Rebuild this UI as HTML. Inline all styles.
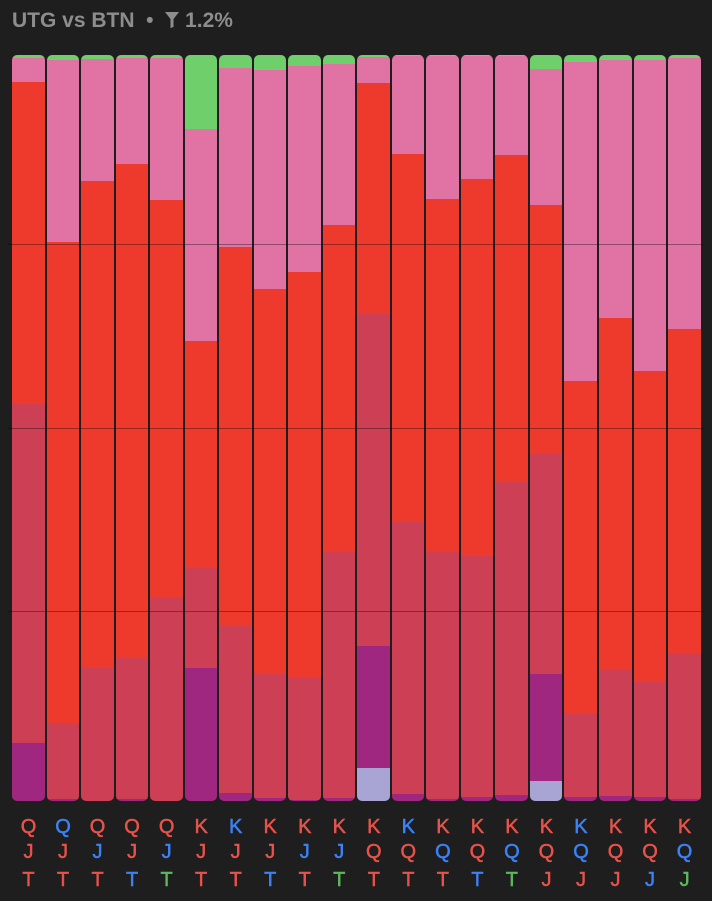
<!DOCTYPE html>
<html><head><meta charset="utf-8"><style>
body{margin:0;width:712px;height:901px;background:#1e1e1e;font-family:"Liberation Sans",sans-serif;overflow:hidden;position:relative}
#title{position:absolute;left:12px;top:9px;font-size:21px;font-weight:bold;color:#8d8d8d}
.col{position:absolute;overflow:hidden;border-radius:5px}
.seg{position:absolute;left:0;width:100%}
.grid{position:absolute;left:8px;width:696px;height:1px;background:rgba(0,0,0,0.35)}
.lbl{position:absolute;width:34px;text-align:center;font-size:20px;-webkit-text-stroke:0.5px currentColor}
</style></head><body>
<div id="title">UTG vs BTN &nbsp;•&nbsp; <svg width="14" height="16" viewBox="0 0 14 16" style="vertical-align:-1px"><path d="M0 0H14L8.5 7V15L5.5 16V7Z" fill="#8d8d8d"/></svg> 1.2%</div>
<div id="chart"></div>
<script>
const green=[0.4,0.7,0.5,0.4,0.4,9.9,1.7,2.0,1.5,1.2,0.3,0.1,0.1,0.1,0.1,1.9,0.9,0.7,0.7,0.4];
const pink=[3.2,24.4,16.4,14.2,19.0,28.4,24.0,29.4,27.6,21.6,3.5,13.1,19.2,16.5,13.3,18.2,42.8,34.5,41.7,36.3];
const red=[43.2,64.5,65.3,66.2,53.2,30.4,50.8,51.6,54.3,43.8,31.0,49.3,47.3,50.5,43.8,33.4,44.5,47.2,41.7,43.4];
const crimson=[45.4,10.2,17.8,18.9,27.3,13.4,22.4,16.6,16.5,33.0,44.5,36.5,33.1,32.3,42.0,29.5,11.3,16.9,15.4,19.6];
const purple=[7.8,0.3,0,0.3,0,17.8,1.1,0.4,0.1,0.4,16.4,0.9,0.3,0.5,0.8,14.3,0.5,0.7,0.5,0.3];
const lavender=[0,0,0,0,0,0,0,0,0,0,4.4,0,0,0,0,2.7,0,0,0,0];
const row1=["Q","Q","Q","Q","Q","K","K","K","K","K","K","K","K","K","K","K","K","K","K","K"];
const row2=["J","J","J","J","J","J","J","J","J","J","Q","Q","Q","Q","Q","Q","Q","Q","Q","Q"];
const row3=["T","T","T","T","T","T","T","T","T","T","T","T","T","T","T","J","J","J","J","J"];
const c1="rbrrrrbrrrrbrrrrbrrr",c2="rrbrbrrrbbrrbrbrbrrb",c3="rrrbgrrbrgrrrbgrrrbg";
const series=[["lavender",lavender,"#a8a5d5"],["purple",purple,"#a0277f"],["crimson",crimson,"#cc3f55"],["red",red,"#ee3a2c"],["pink",pink,"#e072a4"],["green",green,"#6fcf6a"]];
const top0=55,bot=801,H=bot-top0,x0=12,pitch=34.53,w=32.5;
const col={r:"#e8524a",b:"#3b82f6",g:"#5cb85c"};
const chart=document.getElementById('chart');
const y=v=>v*H;
for(let i=0;i<green.length;i++){
  const c=document.createElement('div');c.className='col';
  
  
  c.style.left=(x0+i*pitch)+'px';c.style.top=top0+'px';c.style.width=w+'px';c.style.height=H+'px';
  let tot=0;series.forEach(s=>tot+=s[1][i]);
  let acc=0;
  series.forEach(s=>{const v=s[1][i]/tot;if(v<=0)return;
    const d=document.createElement('div');d.className='seg';
    
    
    d.style.bottom=y(acc)+'px';d.style.height=(y(v)+0.5)+'px';d.style.background=s[2];
    c.appendChild(d);acc+=v;});
  chart.appendChild(c);
  [[row1,c1,828],[row2,c2,853],[row3,c3,881]].forEach((r,k)=>{
    const l=document.createElement('div');l.className='lbl';
    
    
    l.textContent=r[0][i];l.style.color=col[r[1][i]];
    l.style.left=(x0+i*pitch-0.5)+'px';l.style.top=(r[2]-12)+'px';chart.appendChild(l);});
}
[244,428,611].forEach(g=>{const d=document.createElement('div');d.className='grid';
  
  
  d.style.top=g+'px';chart.appendChild(d);});
</script>
</body></html>
